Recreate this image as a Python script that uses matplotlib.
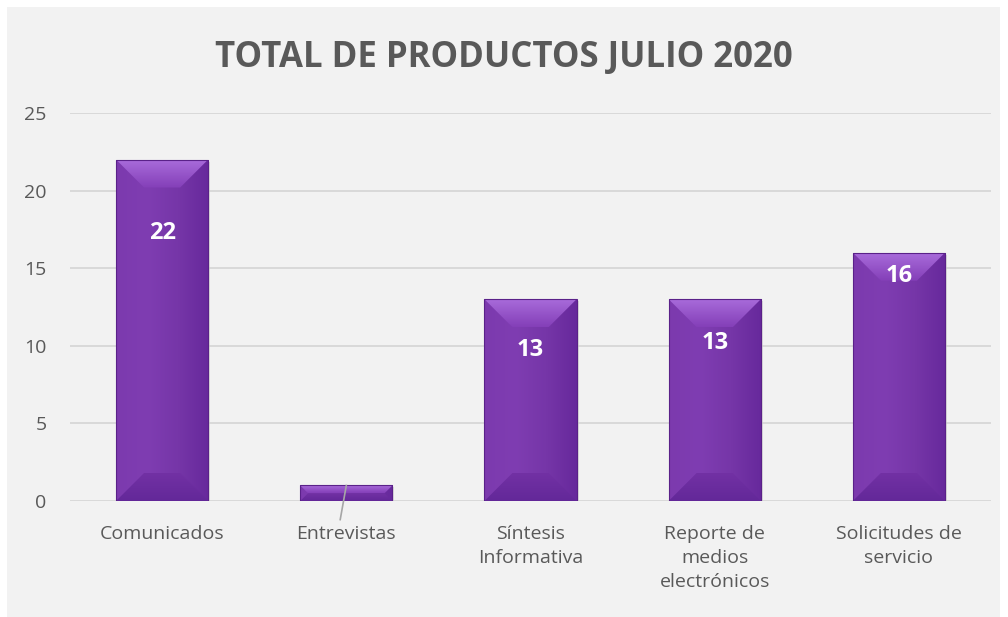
import numpy as np
import matplotlib.pyplot as plt
from matplotlib.patches import Rectangle, Polygon
from matplotlib.colors import LinearSegmentedColormap

# data
categories = ['Comunicados', 'Entrevistas', 'Síntesis\nInformativa',
              'Reporte de\nmedios\nelectrónicos', 'Solicitudes de\nservicio']
values = [22, 1, 13, 13, 16]
# label offsets below the bar top (in value units), as placed in the original
label_drop = [4.7, None, 3.3, 2.8, 1.5]

plt.rcParams['font.family'] = ['Open Sans', 'DejaVu Sans']

W, H = 1008, 617
fig = plt.figure(figsize=(W / 100, H / 100), dpi=100, facecolor='white')
# grey chart area
fig.patches.append(Rectangle((7 / W, 0), 993 / W, 610 / H, transform=fig.transFigure,
                             facecolor='#F2F2F2', edgecolor='none', zorder=-10))

ax = fig.add_axes([70 / W, 116 / H, 921 / W, 388 / H])
ax.set_zorder(5)
ax.set_facecolor('none')
ax.grid(axis='y', color='#D9D9D9', linewidth=1.4, zorder=0)
ax.set_axisbelow(True)
for s in ax.spines.values():
    s.set_visible(False)
ax.axhline(0, color='#D9D9D9', linewidth=1.4, zorder=1)
ax.tick_params(length=0, labelcolor='#595959', labelsize=14)
ax.tick_params(axis='y', pad=17)
ax.tick_params(axis='x', pad=17)

# pixel -> data scale for the bevel
px_x = 1 / 184.2
px_y = 25 / 388
bw = 0.5
bev = 28

body_cmap = LinearSegmentedColormap.from_list('body', ['#7C3AAE', '#7F3DB2', '#7636A8', '#67299C'])
top_cmap = LinearSegmentedColormap.from_list('top', ['#843FB8', '#A86BDA'])
bot_cmap = LinearSegmentedColormap.from_list('bot', ['#632899', '#7231A4'])
edge = '#5A2189'
hgrad = np.linspace(0, 1, 64).reshape(1, -1)
vgrad = np.linspace(0, 1, 64).reshape(-1, 1)

for i, v in enumerate(values):
    x0, x1 = i - bw / 2, i + bw / 2
    # soft shadow
    ax.add_patch(Rectangle((x0 + 2 * px_x, -2 * px_y), bw, v, facecolor='#C8C8C8',
                           edgecolor='none', alpha=0.6, zorder=2))
    bar = ax.bar(i, v, width=bw, color='#7A36AB', edgecolor='none', zorder=3)[0]
    body = ax.imshow(hgrad, cmap=body_cmap, extent=[x0, x1, 0, v], aspect='auto',
                     origin='lower', zorder=3.5, interpolation='bicubic')
    body.set_clip_path(bar)
    b = min(bev, v / px_y / 2)
    bx, by = b * px_x, b * px_y
    top = Polygon([(x0, v), (x1, v), (x1 - bx, v - by), (x0 + bx, v - by)],
                  facecolor='none', edgecolor='none')
    ax.add_patch(top)
    im = ax.imshow(vgrad, cmap=top_cmap, extent=[x0, x1, v - by, v], aspect='auto',
                   origin='lower', zorder=4, interpolation='bicubic')
    im.set_clip_path(top)
    bot = Polygon([(x0, 0), (x1, 0), (x1 - bx, by), (x0 + bx, by)],
                  facecolor='none', edgecolor='none')
    ax.add_patch(bot)
    im = ax.imshow(vgrad, cmap=bot_cmap, extent=[x0, x1, 0, by], aspect='auto',
                   origin='lower', zorder=4, interpolation='bicubic')
    im.set_clip_path(bot)
    ax.add_patch(Rectangle((x0, 0), bw, v, facecolor='none', edgecolor=edge,
                           linewidth=0.8, zorder=5))
    if label_drop[i] is not None:
        ax.text(i, v - label_drop[i], str(v), ha='center', va='center', color='white',
                fontsize=17, fontweight='bold', zorder=6)

# leader line of the hidden label on the small bar
ax.plot([1.0, 0.967], [1.0, -1.2], color='#A6A6A6', linewidth=1.2, zorder=6, clip_on=False)

ax.set_xlim(-0.5, len(values) - 0.5)
ax.set_ylim(0, 25)
ax.set_yticks(np.arange(0, 26, 5))
ax.set_xticks(range(len(categories)))
ax.set_xticklabels(categories, linespacing=1.45)

fig.text(504 / W, 1 - 58 / H, 'TOTAL DE PRODUCTOS JULIO 2020', ha='center', va='center',
         fontsize=25, fontweight='bold', color='#595959')

fig.savefig('out.png', dpi=100, facecolor='white')
